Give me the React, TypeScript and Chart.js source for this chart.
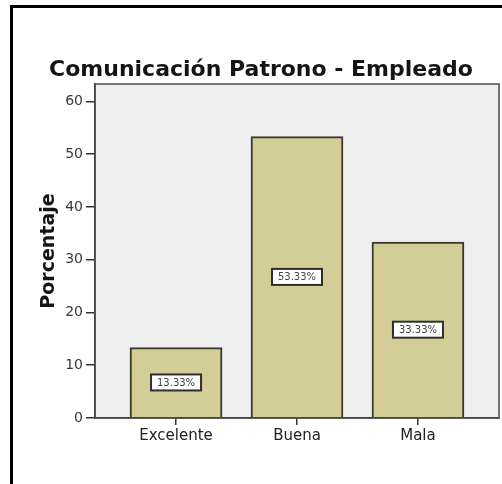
import React, { useEffect, useRef } from "react";
import { Chart, registerables } from "chart.js";

Chart.register(...registerables);

const TITLE = "Comunicación Patrono - Empleado";
const Y_TITLE = "Porcentaje";
const categories = ["Excelente", "Buena", "Mala"];
const percentages = [13.33, 53.33, 33.33];
const valueLabels = ["13.33%", "53.33%", "33.33%"];
const yTicks = [0, 10, 20, 30, 40, 50, 60];

const FONT = "'DejaVu Sans', 'Liberation Sans', sans-serif";

export default function App() {
  const ref = useRef<HTMLCanvasElement>(null);

  useEffect(() => {
    if (!ref.current) return;

    const framePlugin = {
      id: "frame",
      beforeDraw(chart: any) {
        const { ctx, chartArea: a } = chart;
        ctx.save();
        ctx.fillStyle = "#ffffff";
        ctx.fillRect(0, 0, chart.width, chart.height);
        ctx.fillStyle = "#efefef";
        ctx.fillRect(a.left, a.top, a.right - a.left, a.bottom - a.top);
        ctx.strokeStyle = "#000000";
        ctx.lineWidth = 3;
        ctx.beginPath();
        ctx.moveTo(11.5, chart.height);
        ctx.lineTo(11.5, 6.5);
        ctx.lineTo(chart.width, 6.5);
        ctx.stroke();
        ctx.fillStyle = "#151515";
        ctx.font = `bold 22px ${FONT}`;
        ctx.textAlign = "center";
        ctx.textBaseline = "middle";
        ctx.fillText(TITLE, 261, 70);
        ctx.restore();
      },
      afterDatasetsDraw(chart: any) {
        const { ctx, chartArea: a } = chart;
        ctx.save();
        ctx.strokeStyle = "#4a4a4a";
        ctx.lineWidth = 1.5;
        ctx.strokeRect(a.left, a.top, a.right - a.left, a.bottom - a.top);
        const meta = chart.getDatasetMeta(0);
        meta.data.forEach((el: any, i: number) => {
          const cx = el.x;
          const cy = (el.y + el.base) / 2;
          const w = 50;
          const h = 16;
          ctx.fillStyle = "#ffffff";
          ctx.fillRect(cx - w / 2, cy - h / 2, w, h);
          ctx.strokeStyle = "#2e2e2e";
          ctx.lineWidth = 2;
          ctx.strokeRect(cx - w / 2, cy - h / 2, w, h);
          ctx.fillStyle = "#444444";
          ctx.font = `10px ${FONT}`;
          ctx.textAlign = "center";
          ctx.textBaseline = "middle";
          ctx.fillText(valueLabels[i], cx, cy + 0.5);
        });
        ctx.restore();
      },
    };

    const chart = new Chart(ref.current, {
      type: "bar",
      data: {
        datasets: [
          {
            data: percentages.map((v, i) => ({ x: i, y: v })),
            backgroundColor: "#d3ce98",
            borderColor: "#3a3a2c",
            borderWidth: 2,
            barThickness: 92,
          } as any,
        ],
      },
      options: {
        responsive: false,
        animation: false,
        layout: { padding: { top: 84, right: 3, left: 0, bottom: 0 } },
        plugins: {
          legend: { display: false },
          tooltip: { enabled: false },
          title: { display: false },
        },
        scales: {
          x: {
            type: "linear",
            min: -0.67,
            max: 2.67,
            offset: false,
            afterBuildTicks: (s: any) => {
              s.ticks = categories.map((_, i) => ({ value: i }));
            },
            afterFit: (s: any) => {
              s.height = 66;
            },
            ticks: {
              callback: (v: any) => categories[v as number] ?? "",
              font: { family: FONT, size: 15 },
              color: "#222222",
              padding: 2,
              maxRotation: 0,
              autoSkip: false,
            },
            grid: {
              offset: false,
              drawOnChartArea: false,
              drawTicks: true,
              tickLength: 7,
              color: "#333333",
              lineWidth: 1.5,
            },
            border: { display: true, color: "#333333", width: 1.5 },
          },
          y: {
            type: "linear",
            min: 0,
            max: 63.3,
            afterBuildTicks: (s: any) => {
              s.ticks = yTicks.map((v) => ({ value: v }));
            },
            afterFit: (s: any) => {
              s.width = 95;
            },
            ticks: {
              font: { family: FONT, size: 14 },
              color: "#3a3a3a",
              padding: 3,
            },
            grid: {
              drawOnChartArea: false,
              drawTicks: true,
              tickLength: 9,
              color: "#333333",
              lineWidth: 1.5,
            },
            border: { display: true, color: "#333333", width: 1.5 },
            title: {
              display: true,
              text: Y_TITLE,
              color: "#151515",
              font: { family: FONT, size: 19, weight: "bold" },
              padding: { top: 38, bottom: 0 },
            },
          },
        },
      },
      plugins: [framePlugin],
    } as any);

    return () => chart.destroy();
  }, []);

  return (
    <div style={{ position: "absolute", left: 0, top: 0, width: 502, height: 484 }}>
      <canvas ref={ref} width={502} height={484} />
    </div>
  );
}
